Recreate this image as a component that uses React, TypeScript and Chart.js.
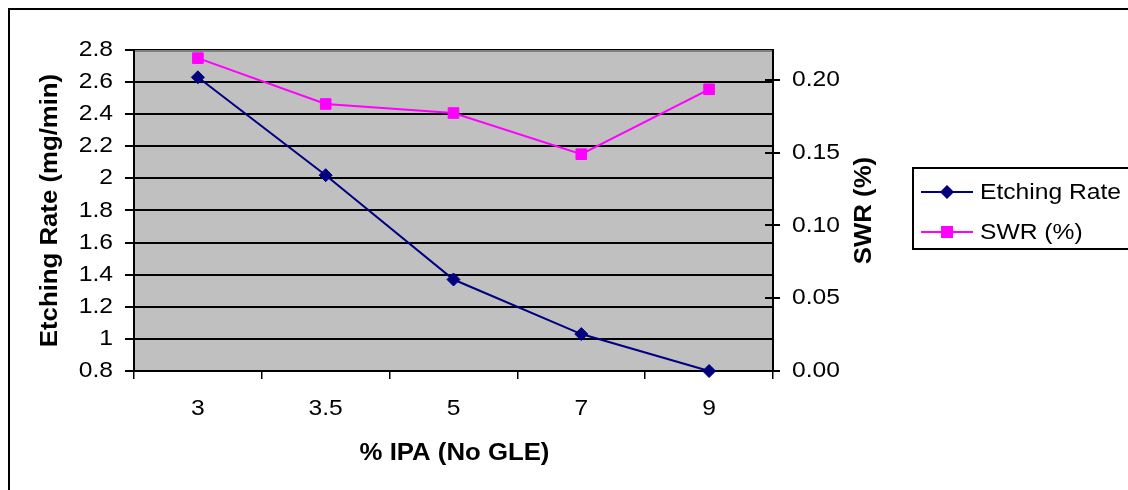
import React, { useEffect, useRef } from 'react';
import { Chart, registerables } from 'chart.js';

Chart.register(...registerables);

// ---- data ----
const categories: string[] = ['3', '3.5', '5', '7', '9'];
const etchingRate: number[] = [2.63, 2.02, 1.37, 1.03, 0.8];
const swrPercent: number[] = [0.215, 0.1835, 0.1773, 0.149, 0.1936];
const leftTicks: number[] = [0.8, 1.0, 1.2, 1.4, 1.6, 1.8, 2.0, 2.2, 2.4, 2.6, 2.8];
const rightTicks: number[] = [0, 0.05, 0.1, 0.15, 0.2];
const leftRange: number[] = [0.8, 2.8];
const rightRange: number[] = [0, 0.2206];

const seriesNames: string[] = ['Etching Rate', 'SWR (%)'];
const xTitle = '% IPA (No GLE)';
const yTitle = 'Etching Rate (mg/min)';
const y1Title = 'SWR (%)';

const FONT = '"Liberation Sans", Arial, Helvetica, sans-serif';
const SX = 1.12; // horizontal text widening (GDI-like glyph spacing)

const excelPlugin = {
  id: 'excelLook',
  beforeDraw(chart: any) {
    const { ctx, chartArea } = chart;
    ctx.save();
    ctx.fillStyle = '#ffffff';
    ctx.fillRect(0, 0, chart.width, chart.height);
    ctx.fillStyle = '#C0C0C0';
    ctx.fillRect(chartArea.left, chartArea.top, chartArea.right - chartArea.left, chartArea.bottom - chartArea.top);
    ctx.restore();
  },
  beforeDatasetsDraw(chart: any) {
    const { ctx, chartArea } = chart;
    ctx.save();
    // gray top border of plot area
    ctx.fillStyle = '#808080';
    ctx.fillRect(chartArea.left + 1, chartArea.top, chartArea.right - chartArea.left - 2, 2);
    // inner part of right axis tick marks
    const y1 = chart.scales.y1;
    ctx.strokeStyle = '#000';
    ctx.lineWidth = 2;
    rightTicks.forEach((v) => {
      const py = Math.round(y1.getPixelForValue(v));
      ctx.beginPath();
      ctx.moveTo(chartArea.right - 8, py);
      ctx.lineTo(chartArea.right, py);
      ctx.stroke();
    });
    ctx.restore();
  },
  afterDraw(chart: any) {
    const { ctx, chartArea } = chart;
    ctx.save();
    // outer chart frame
    ctx.strokeStyle = '#000';
    ctx.lineWidth = 2;
    ctx.strokeRect(9, 9, 3000, 3000);

    // axis titles
    ctx.fillStyle = '#000';
    ctx.font = `bold 23px ${FONT}`;
    ctx.textAlign = 'center';
    ctx.textBaseline = 'alphabetic';
    ctx.fillText(xTitle, (chartArea.left + chartArea.right) / 2 + 1, 460);

    const midY = (chartArea.top + chartArea.bottom) / 2;
    ctx.textBaseline = 'middle';
    ctx.save();
    ctx.translate(51, midY);
    ctx.rotate(-Math.PI / 2);
    ctx.fillText(yTitle, 0, 0);
    ctx.restore();

    ctx.save();
    ctx.translate(865, midY);
    ctx.rotate(-Math.PI / 2);
    ctx.fillText(y1Title, 0, 0);
    ctx.restore();

    // legend
    ctx.lineWidth = 2;
    ctx.strokeStyle = '#000';
    ctx.strokeRect(913, 168, 400, 81);
    const rows = [192, 232];
    const ds = chart.data.datasets;
    ds.forEach((d: any, i: number) => {
      const y = rows[i];
      ctx.strokeStyle = d.borderColor;
      ctx.lineWidth = 2;
      ctx.beginPath();
      ctx.moveTo(921, y);
      ctx.lineTo(973, y);
      ctx.stroke();
      ctx.fillStyle = d.borderColor;
      const cx = 947;
      if (i === 0) {
        ctx.beginPath();
        ctx.moveTo(cx, y - 7);
        ctx.lineTo(cx + 7, y);
        ctx.lineTo(cx, y + 7);
        ctx.lineTo(cx - 7, y);
        ctx.closePath();
        ctx.fill();
      } else {
        ctx.fillRect(cx - 6, y - 6, 12, 12);
      }
      ctx.fillStyle = '#000';
      ctx.font = `22px ${FONT}`;
      ctx.textAlign = 'left';
      ctx.textBaseline = 'alphabetic';
      ctx.fillText(seriesNames[i], 980, y + 7);
    });
    ctx.restore();
  },
};

export default function App() {
  const ref = useRef<HTMLCanvasElement | null>(null);

  useEffect(() => {
    const canvas = ref.current;
    if (!canvas) return;
    const ctx = canvas.getContext('2d') as any;
    const orig = CanvasRenderingContext2D.prototype.fillText;
    ctx.fillText = function (text: string, x: number, y: number, maxWidth?: number) {
      ctx.save();
      ctx.translate(x, y);
      ctx.scale(SX, 1);
      if (maxWidth !== undefined && maxWidth !== null) orig.call(ctx, text, 0, 0, maxWidth / SX);
      else orig.call(ctx, text, 0, 0);
      ctx.restore();
    };

    const tickFont = { family: FONT, size: 22 };

    const chart = new Chart(canvas, {
      type: 'line',
      data: {
        labels: categories,
        datasets: [
          {
            label: seriesNames[0],
            data: etchingRate,
            yAxisID: 'y',
            borderColor: '#000080',
            backgroundColor: '#000080',
            borderWidth: 2,
            pointStyle: 'rectRot',
            pointRadius: 6.5,
            pointBorderWidth: 1,
            pointBorderColor: '#000080',
            pointBackgroundColor: '#000080',
            tension: 0,
            clip: false,
          } as any,
          {
            label: seriesNames[1],
            data: swrPercent,
            yAxisID: 'y1',
            borderColor: '#FF00FF',
            backgroundColor: '#FF00FF',
            borderWidth: 2,
            pointStyle: 'rect',
            pointRadius: 7.5,
            pointBorderWidth: 1,
            pointBorderColor: '#FF00FF',
            pointBackgroundColor: '#FF00FF',
            tension: 0,
            clip: false,
          } as any,
        ],
      },
      options: {
        responsive: false,
        maintainAspectRatio: false,
        animation: false,
        devicePixelRatio: 1,
        events: [],
        layout: { padding: { top: 50, left: 0, right: 0, bottom: 0 } },
        plugins: {
          legend: { display: false },
          tooltip: { enabled: false },
          title: { display: false },
        },
        scales: {
          x: {
            type: 'category',
            position: 'bottom',
            offset: true,
            grid: {
              offset: true,
              drawOnChartArea: false,
              color: '#000',
              lineWidth: 1.5,
              tickLength: 8,
            },
            border: { color: '#000', width: 2 },
            ticks: {
              color: '#000',
              font: tickFont,
              padding: 17,
              maxRotation: 0,
              autoSkip: false,
            },
            afterFit: (s: any) => {
              s.height = 119;
            },
          },
          y: {
            type: 'linear',
            position: 'left',
            min: leftRange[0],
            max: leftRange[1],
            afterBuildTicks: (s: any) => {
              s.ticks = leftTicks.map((v) => ({ value: v }));
            },
            grid: { color: '#000', lineWidth: 2, tickLength: 9 },
            border: { color: '#000', width: 2 },
            ticks: {
              color: '#000',
              font: tickFont,
              padding: 12,
              callback: (v: any) => String(parseFloat(Number(v).toFixed(1))),
            },
            afterFit: (s: any) => {
              s.width = 134;
            },
          },
          y1: {
            type: 'linear',
            position: 'right',
            min: rightRange[0],
            max: rightRange[1],
            afterBuildTicks: (s: any) => {
              s.ticks = rightTicks.map((v) => ({ value: v }));
            },
            grid: { drawOnChartArea: false, color: '#000', lineWidth: 2, tickLength: 7 },
            border: { color: '#000', width: 2 },
            ticks: {
              color: '#000',
              font: tickFont,
              padding: 12,
              callback: (v: any) => Number(v).toFixed(2),
            },
            afterFit: (s: any) => {
              s.width = 355;
            },
          },
        },
      } as any,
      plugins: [excelPlugin],
    });

    return () => {
      chart.destroy();
      delete ctx.fillText;
    };
  }, []);

  return (
    <canvas
      ref={ref}
      width={1128}
      height={490}
      style={{ position: 'fixed', left: 0, top: 0, width: '1128px', height: '490px', display: 'block' }}
    />
  );
}
